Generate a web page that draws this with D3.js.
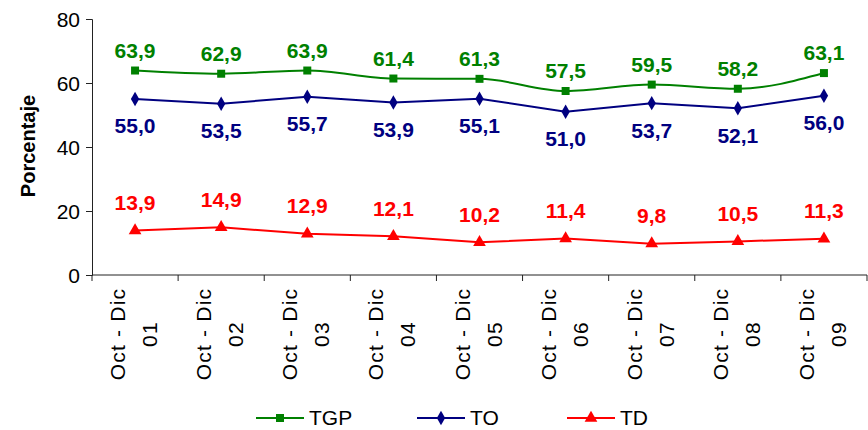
<!DOCTYPE html>
<html><head><meta charset="utf-8">
<script src="https://cdn.jsdelivr.net/npm/d3@7"></script>
<style>body{margin:0;background:#fff}svg{display:block;font-family:"Liberation Sans",Arial,sans-serif}</style>
</head><body><svg id="c" width="868" height="430"></svg>
<script>
const categories = ["01","02","03","04","05","06","07","08","09"];
const catPrefix = "Oct - Dic";
const tgp = [63.9,62.9,63.9,61.4,61.3,57.5,59.5,58.2,63.1];
const to  = [55.0,53.5,55.7,53.9,55.1,51.0,53.7,52.1,56.0];
const td  = [13.9,14.9,12.9,12.1,10.2,11.4,9.8,10.5,11.3];
const yTicks = [0,20,40,60,80];
const seriesNames = ["TGP","TO","TD"];

const svg = d3.select("#c");
const x = d3.scaleBand().domain(categories).range([92,867]);
const y = d3.scaleLinear().domain([0,80]).range([275,19]);
const fmt = v => v.toFixed(1).replace(".",",");

// axes
const yAxis = d3.axisLeft(y).tickValues(yTicks).tickSize(6).tickPadding(6);
const gy = svg.append("g").attr("transform","translate(92,0)").call(yAxis);
gy.selectAll("text").attr("font-size",21).attr("fill","#000").attr("dy","0.35em")
  .attr("font-family","Liberation Sans, Arial, sans-serif");
gy.selectAll("line,path").attr("stroke","#222");

const gx = svg.append("g").attr("transform","translate(0,275)");
gx.append("line").attr("x1",92).attr("x2",867).attr("stroke","#222");
const bounds = categories.map(c=>x(c)).concat([x.range()[1]]);
gx.selectAll("line.t").data(bounds).join("line").attr("class","t")
  .attr("x1",d=>d).attr("x2",d=>d).attr("y1",0).attr("y2",6).attr("stroke","#222");
const xl = gx.selectAll("g.lab").data(categories).join("g").attr("class","lab")
  .attr("transform",d=>`translate(${x(d)+x.bandwidth()/2},59) rotate(-90)`);
xl.append("text").attr("text-anchor","middle").attr("x",0).attr("y",-10)
  .attr("font-size",21).attr("letter-spacing",1.2).text(catPrefix);
xl.append("text").attr("text-anchor","middle").attr("x",0).attr("y",22)
  .attr("font-size",21).attr("letter-spacing",1.2).text(d=>d);

// y title
svg.append("text").attr("transform","translate(35,146) rotate(-90)").attr("text-anchor","middle")
  .attr("font-size",20).attr("font-weight","bold").text("Porcentaje");

const cx = c => x(c)+x.bandwidth()/2;
const series = [
  {name:"TGP", vals:tgp, color:"#008000", sym:d3.symbolSquare, size:64, dy:-20, curve:d3.curveMonotoneX},
  {name:"TO", vals:to, color:"#000080", sym:d3.symbolDiamond, size:60, dy:27, curve:d3.curveLinear},
  {name:"TD", vals:td, color:"#ff0000", sym:d3.symbolTriangle, size:70, dy:-28, curve:d3.curveLinear}
];
series.forEach(s=>{
  const pts = categories.map((c,i)=>({c, v:s.vals[i]}));
  const line = d3.line().x(d=>cx(d.c)).y(d=>y(d.v)).curve(s.curve);
  svg.append("path").attr("d",line(pts)).attr("fill","none").attr("stroke",s.color).attr("stroke-width",2);
  svg.selectAll(null).data(pts).join("path")
    .attr("d",d3.symbol(s.sym,s.size)).attr("fill",s.color)
    .attr("transform",d=>`translate(${cx(d.c)},${y(d.v)})`);
  svg.selectAll(null).data(pts).join("text")
    .attr("x",d=>cx(d.c)).attr("y",d=>y(d.v)+s.dy).attr("dy","0.35em")
    .attr("text-anchor","middle").attr("font-size",21).attr("font-weight","bold")
    .attr("fill",s.color).text(d=>fmt(d.v));
});

// legend
const legX = [256,417,567];
series.forEach((s,i)=>{
  const g = svg.append("g").attr("transform",`translate(${legX[i]},418)`);
  g.append("line").attr("x1",0).attr("x2",48).attr("stroke",s.color).attr("stroke-width",2);
  g.append("path").attr("d",d3.symbol(s.sym,s.size)).attr("fill",s.color).attr("transform","translate(24,0)");
  g.append("text").attr("x",53).attr("dy","0.35em").attr("font-size",21).text(seriesNames[i]);
});
</script></body></html>
